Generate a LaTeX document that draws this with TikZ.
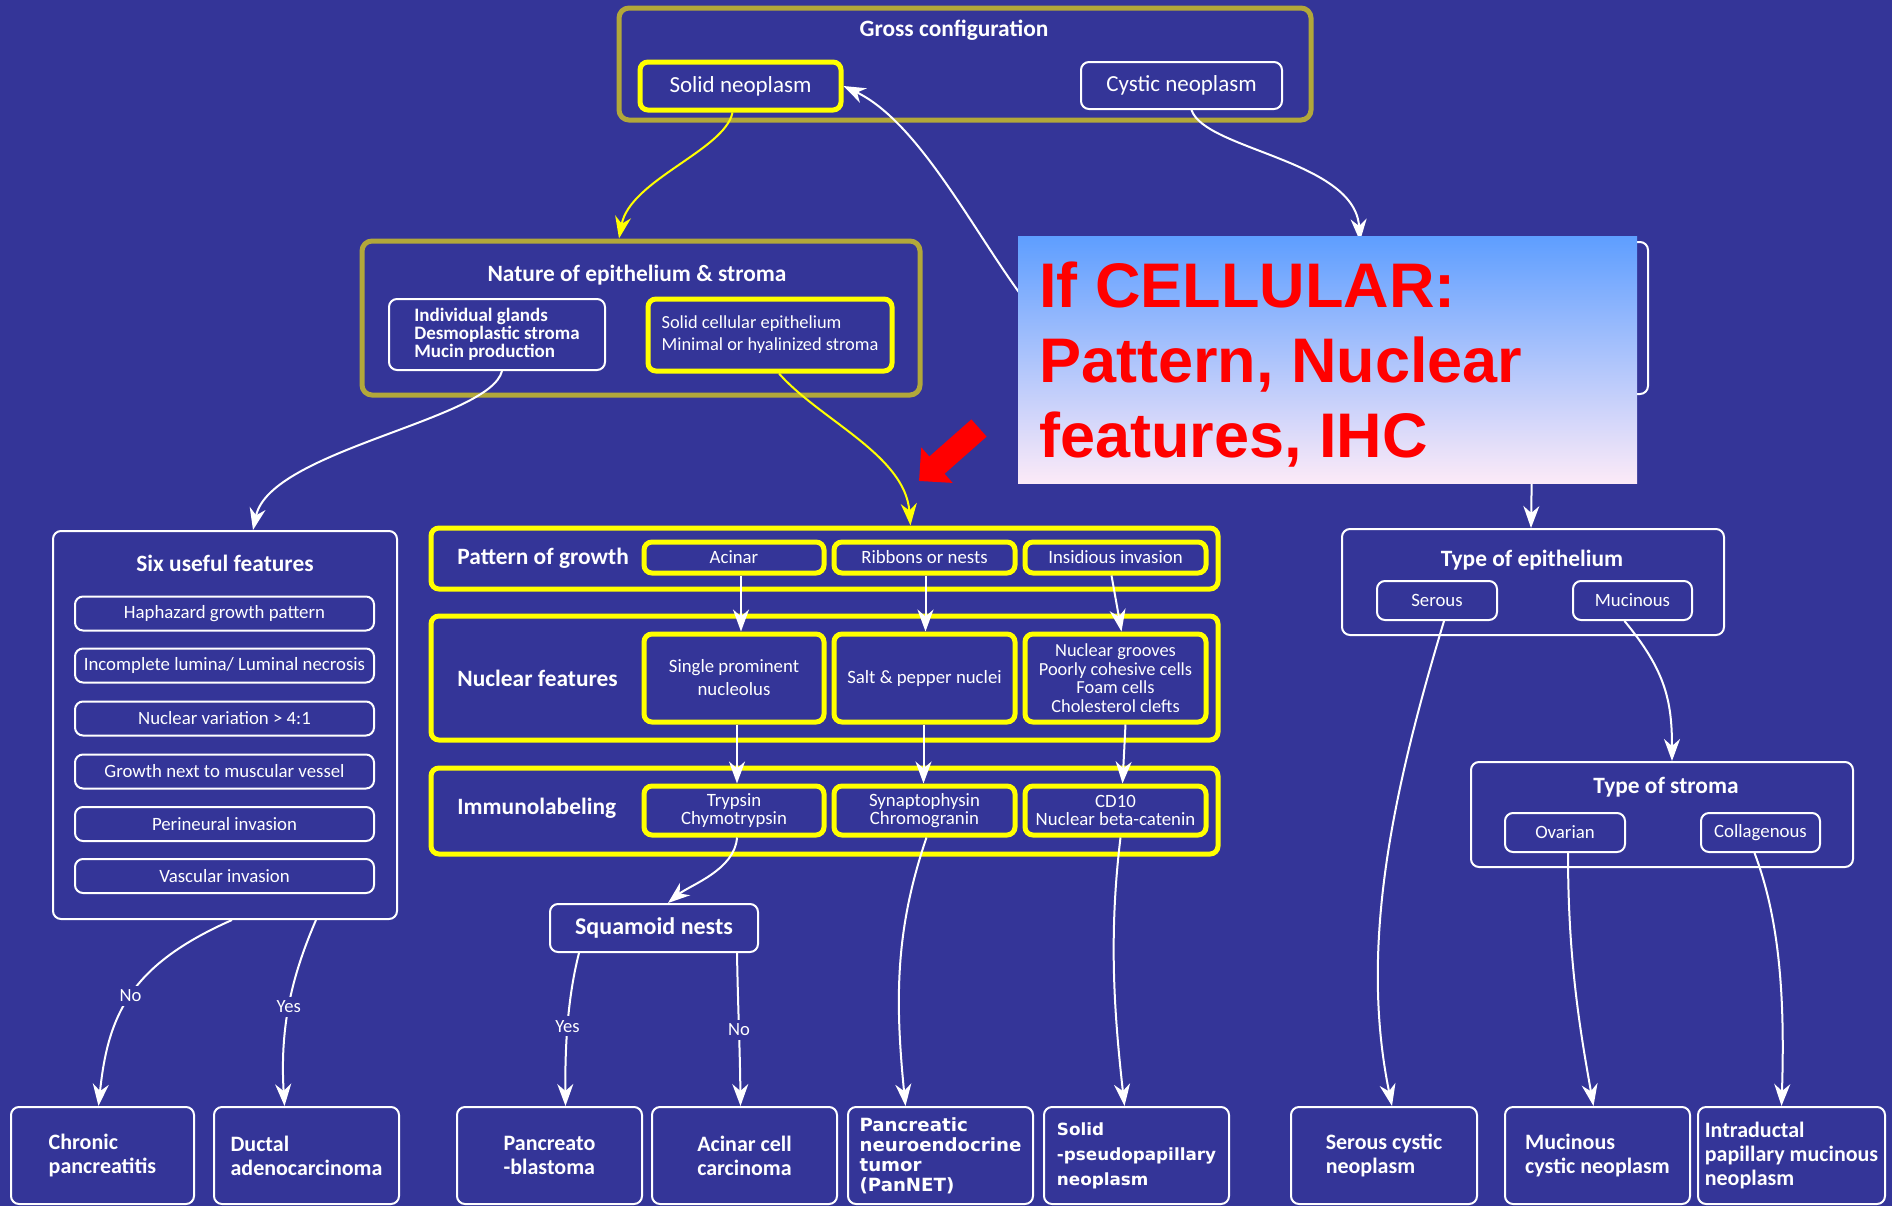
\documentclass[tikz,border=0pt]{standalone}
\usepackage{fontspec}
\setmainfont{Carlito}
\newfontfamily\dvsans{DejaVu Sans}
\newfontfamily\arialfam{Liberation Sans}
\usetikzlibrary{arrows.meta}

\definecolor{bg}{RGB}{52,53,152}
\definecolor{olivebd}{RGB}{178,168,58}
\definecolor{ybright}{RGB}{255,255,0}
\definecolor{skytop}{RGB}{94,158,255}
\definecolor{skymid}{RGB}{150,198,250}
\definecolor{skybot}{RGB}{252,234,248}

\begin{document}
\begin{tikzpicture}[x=0.5pt,y=-0.5pt,
  wbox/.style={draw=white, line width=1pt, rounded corners=4pt, inner sep=0pt, text=white, align=center},
  ybox/.style={draw=ybright, line width=2.5pt, rounded corners=4pt, inner sep=0pt, text=white, align=center},
  obox/.style={draw=olivebd, line width=2.5pt, rounded corners=5pt, inner sep=0pt},
  ttl/.style={text=white, font=\bfseries\fontsize{11.7}{14}\selectfont, inner sep=0pt},
  reg/.style={font=\fontsize{9.4}{11}\selectfont},
  big/.style={font=\fontsize{11.5}{14}\selectfont},
  res/.style={wbox, minimum width=92.5pt, minimum height=48.5pt, align=left, font=\bfseries\fontsize{11}{12}\selectfont},
  conn/.style={draw=white, line width=1pt, -{Stealth[length=11pt,width=8pt,inset=3.5pt]}},
  yconn/.style={conn, draw=ybright},
  lbl/.style={fill=bg, text=white, inner sep=2pt, font=\fontsize{9.3}{11}\selectfont},
]
% page and background
\useasboundingbox (0,0) rectangle (1892,1206);
\fill[bg] (0,0) rectangle (1892,1206);

% ---- gross configuration ----
\node[obox, minimum width=346pt, minimum height=56pt] (gross) at (965,64) {};
\node[ttl] (grossT) at (954,30) {Gross configuration};
\node[ybox, big, minimum width=100.5pt, minimum height=24pt] (solid) at (740.5,86) {Solid neoplasm};
\node[wbox, big, minimum width=100.5pt, minimum height=23.5pt] (cystic) at (1181.5,85.5) {Cystic neoplasm};

% ---- nature of epithelium and stroma ----
\node[obox, minimum width=279pt, minimum height=77pt] (nature) at (641,318) {};
\node[ttl] (natureT) at (637,275) {Nature of epithelium \& stroma};
\node[wbox, minimum width=108pt, minimum height=35.5pt, align=left,
      font=\bfseries\fontsize{9.5}{9}\selectfont] (natL) at (497,334.5)
      {Individual glands\\Desmoplastic stroma\\Mucin production};
\node[ybox, minimum width=122pt, minimum height=36pt, align=left,
      font=\fontsize{9.2}{11}\selectfont] (natR) at (770,335)
      {Solid cellular epithelium\\Minimal or hyalinized stroma};

% ---- cystic branch box ----
\node[wbox, minimum width=304pt, minimum height=76pt] (hid) at (1344,318) {};

% ---- six useful features ----
\node[wbox, minimum width=172pt, minimum height=194pt] (six) at (225,725) {};
\node[ttl] (sixT) at (225,563) {Six useful features};
\node[wbox, reg, minimum width=149.5pt, minimum height=17pt] (f1) at (224.5,613.5) {Haphazard growth pattern};
\node[wbox, reg, minimum width=149.5pt, minimum height=17pt] (f2) at (224.5,665.5) {Incomplete lumina/ Luminal necrosis};
\node[wbox, reg, minimum width=149.5pt, minimum height=17pt] (f3) at (224.5,718.5) {Nuclear variation > 4:1};
\node[wbox, reg, minimum width=149.5pt, minimum height=17pt] (f4) at (224.5,771.5) {Growth next to muscular vessel};
\node[wbox, reg, minimum width=149.5pt, minimum height=17pt] (f5) at (224.5,824) {Perineural invasion};
\node[wbox, reg, minimum width=149.5pt, minimum height=17pt] (f6) at (224.5,876) {Vascular invasion};

% ---- pattern of growth ----
\node[ybox, minimum width=393.5pt, minimum height=30.5pt] (pat) at (824.5,558.5) {};
\node[ttl, anchor=west] (patT) at (457,558) {Pattern of growth};
\node[ybox, reg, minimum width=90pt, minimum height=15.5pt] (acinar) at (734,557.5) {Acinar};
\node[ybox, reg, minimum width=90.5pt, minimum height=15.5pt] (ribbons) at (924.5,557.5) {Ribbons or nests};
\node[ybox, reg, minimum width=90.5pt, minimum height=15.5pt] (insid) at (1115.5,557.5) {Insidious invasion};

% ---- nuclear features ----
\node[ybox, minimum width=393.5pt, minimum height=62pt] (nuc) at (824.5,678) {};
\node[ttl, anchor=west] (nucT) at (457,678) {Nuclear features};
\node[ybox, minimum width=90pt, minimum height=44pt, font=\fontsize{9.4}{11.5}\selectfont] (single) at (734,678) {Single prominent\\nucleolus};
\node[ybox, reg, minimum width=90.5pt, minimum height=44pt] (salt) at (924.5,678) {Salt \& pepper nuclei};
\node[ybox, minimum width=90.5pt, minimum height=44pt, font=\fontsize{9.2}{9.3}\selectfont] (grooves) at (1115.5,678)
      {Nuclear grooves\\Poorly cohesive cells\\Foam cells\\Cholesterol clefts};

% ---- immunolabeling ----
\node[ybox, minimum width=393.5pt, minimum height=43pt] (imm) at (824.5,811) {};
\node[ttl, anchor=west] (immT) at (457,808) {Immunolabeling};
\node[ybox, minimum width=90pt, minimum height=24.5pt, font=\fontsize{9.4}{9}\selectfont] (tryp) at (734,810.5) {Trypsin\\Chymotrypsin};
\node[ybox, minimum width=90.5pt, minimum height=24.5pt, font=\fontsize{9.4}{9}\selectfont] (syn) at (924.5,810.5) {Synaptophysin\\Chromogranin};
\node[ybox, minimum width=90.5pt, minimum height=24.5pt, font=\fontsize{9.4}{9}\selectfont] (cd10) at (1115.5,810.5) {CD10\\Nuclear beta-catenin};

% ---- squamoid nests ----
\node[wbox, minimum width=104pt, minimum height=24pt, font=\bfseries\fontsize{12}{14}\selectfont] (squam) at (654,928) {Squamoid nests};

% ---- type of epithelium / stroma ----
\node[wbox, minimum width=191pt, minimum height=53pt] (epi) at (1533,582) {};
\node[ttl] (epiT) at (1532,560) {Type of epithelium};
\node[wbox, reg, minimum width=60pt, minimum height=19.5pt] (serous) at (1437,600.5) {Serous};
\node[wbox, reg, minimum width=59.5pt, minimum height=19.5pt] (mucin) at (1632.5,600.5) {Mucinous};
\node[wbox, minimum width=191pt, minimum height=52.5pt] (stroma) at (1662,814.5) {};
\node[ttl] (stromaT) at (1666,787) {Type of stroma};
\node[wbox, reg, minimum width=60pt, minimum height=19.5pt] (ovarian) at (1565,832.5) {Ovarian};
\node[wbox, reg, minimum width=59.5pt, minimum height=19.5pt] (collag) at (1760.5,832.5) {Collagenous};

% ---- diagnoses ----
\node[res, minimum width=91.5pt] (chronic) at (102.5,1155.5) {Chronic\\pancreatitis};
\node[res] (ductal) at (306.5,1155.5) {Ductal\\adenocarcinoma};
\node[res] (pblast) at (549.5,1155.5) {Pancreato\\-blastoma};
\node[res] (acc) at (744.5,1155.5) {Acinar cell\\carcinoma};
\node[res, font=\dvsans\bfseries\fontsize{9.1}{10}\selectfont] (pannet) at (940.5,1155.5) {Pancreatic\\neuroendocrine\\tumor\\(PanNET)};
\node[res, font=\dvsans\bfseries\fontsize{8.4}{12.5}\selectfont] (spn) at (1136.5,1155.5) {Solid\\-pseudopapillary\\neoplasm};
\node[res, minimum width=93pt] (scn) at (1384,1155.5) {Serous cystic\\neoplasm};
\node[res] (mcn) at (1597.5,1155.5) {Mucinous\\cystic neoplasm};
\node[res, minimum width=93.5pt] (ipmn) at (1791.5,1155.5) {Intraductal\\papillary mucinous\\neoplasm};

% ---- connectors ----
\draw[yconn] ([xshift=-4pt]solid.south) .. controls (725,150) and (630,180) .. ([xshift=-11pt]nature.north);
\draw[conn] ([xshift=5pt]cystic.south) .. controls (1205,150) and (1355,160) .. ([xshift=8pt]hid.north);
\draw[conn] (hid.west) .. controls (985,255) and (925,125) .. (solid.east);
\draw[conn] ([xshift=2.5pt]natL.south) .. controls (490,420) and (270,450) .. ([xshift=14pt]six.north);
\draw[yconn] ([xshift=4.5pt]natR.south) .. controls (820,420) and (905,455) .. ([xshift=43pt]pat.north);
\draw[conn] (epi.north |- hid.south) -- ([xshift=-1pt]epi.north);

\draw[conn] ([xshift=3.5pt]acinar.south) -- ([xshift=3.5pt]single.north);
\draw[conn] ([xshift=0.5pt]ribbons.south) -- ([xshift=0.5pt]salt.north);
\draw[conn] ([xshift=-2pt]insid.south) -- ([xshift=3pt]grooves.north);
\draw[conn] ([xshift=1.5pt]single.south) -- ([xshift=1.5pt]tryp.north);
\draw[conn] ([xshift=-0.5pt]salt.south) -- ([xshift=-0.5pt]syn.north);
\draw[conn] ([xshift=5pt]grooves.south) -- ([xshift=3.5pt]cd10.north);

\draw[conn] ([xshift=1.5pt]tryp.south) .. controls (735,870) and (690,885) .. ([xshift=7pt]squam.north);
\draw[conn] ([xshift=1pt]syn.south) .. controls (895,930) and (895,1000) .. ([xshift=-17.5pt]pannet.north);
\draw[conn] ([xshift=2.5pt]cd10.south) .. controls (1108,940) and (1115,1020) .. ([xshift=-6pt]spn.north);

\draw[conn] ([xshift=3.5pt]six.south) .. controls (130,965) and (108,1015) .. ([xshift=-2pt]chronic.north)
      node[lbl, pos=0.5] (noA) {No};
\draw[conn] ([xshift=45.5pt]six.south) .. controls (290,980) and (280,1030) .. ([xshift=-11pt]ductal.north)
      node[lbl, pos=0.5] (yesA) {Yes};
\draw[conn] ([xshift=-37.5pt]squam.south) .. controls (567,1000) and (565,1050) .. ([xshift=8pt]pblast.north)
      node[lbl, pos=0.5] (yesB) {Yes};
\draw[conn] ([xshift=41.5pt]squam.south) .. controls (738,1010) and (740,1050) .. ([xshift=-2pt]acc.north)
      node[lbl, pos=0.5] (noB) {No};

\draw[conn] ([xshift=3.5pt]serous.south) .. controls (1390,800) and (1360,950) .. ([xshift=4pt]scn.north);
\draw[conn] ([xshift=-4pt]mucin.south) .. controls (1665,670) and (1672,700) .. ([xshift=5pt]stroma.north);
\draw[conn] ([xshift=1.5pt]ovarian.south) .. controls (1568,960) and (1580,1030) .. ([xshift=-2pt]mcn.north);
\draw[conn] ([xshift=-3pt]collag.south) .. controls (1780,920) and (1785,1000) .. ([xshift=-5pt]ipmn.north);

% ---- highlighted note ----
\shade[top color=skytop, middle color=skymid, bottom color=skybot] (1018,236) rectangle (1637,483);
\node[anchor=north west, align=left, text=red, inner sep=0pt,
      font=\arialfam\bfseries\fontsize{31.5}{37.5}\selectfont] (cellular) at (1039,261)
      {If CELLULAR:\\Pattern, Nuclear\\features, IHC};
\coordinate (rtail) at (979,428);
\coordinate (rtip) at (919,481);
\draw[red, line width=11.5pt, -{Triangle[length=12pt,width=23pt]}] (rtail) -- (rtip);
\end{tikzpicture}
\end{document}
